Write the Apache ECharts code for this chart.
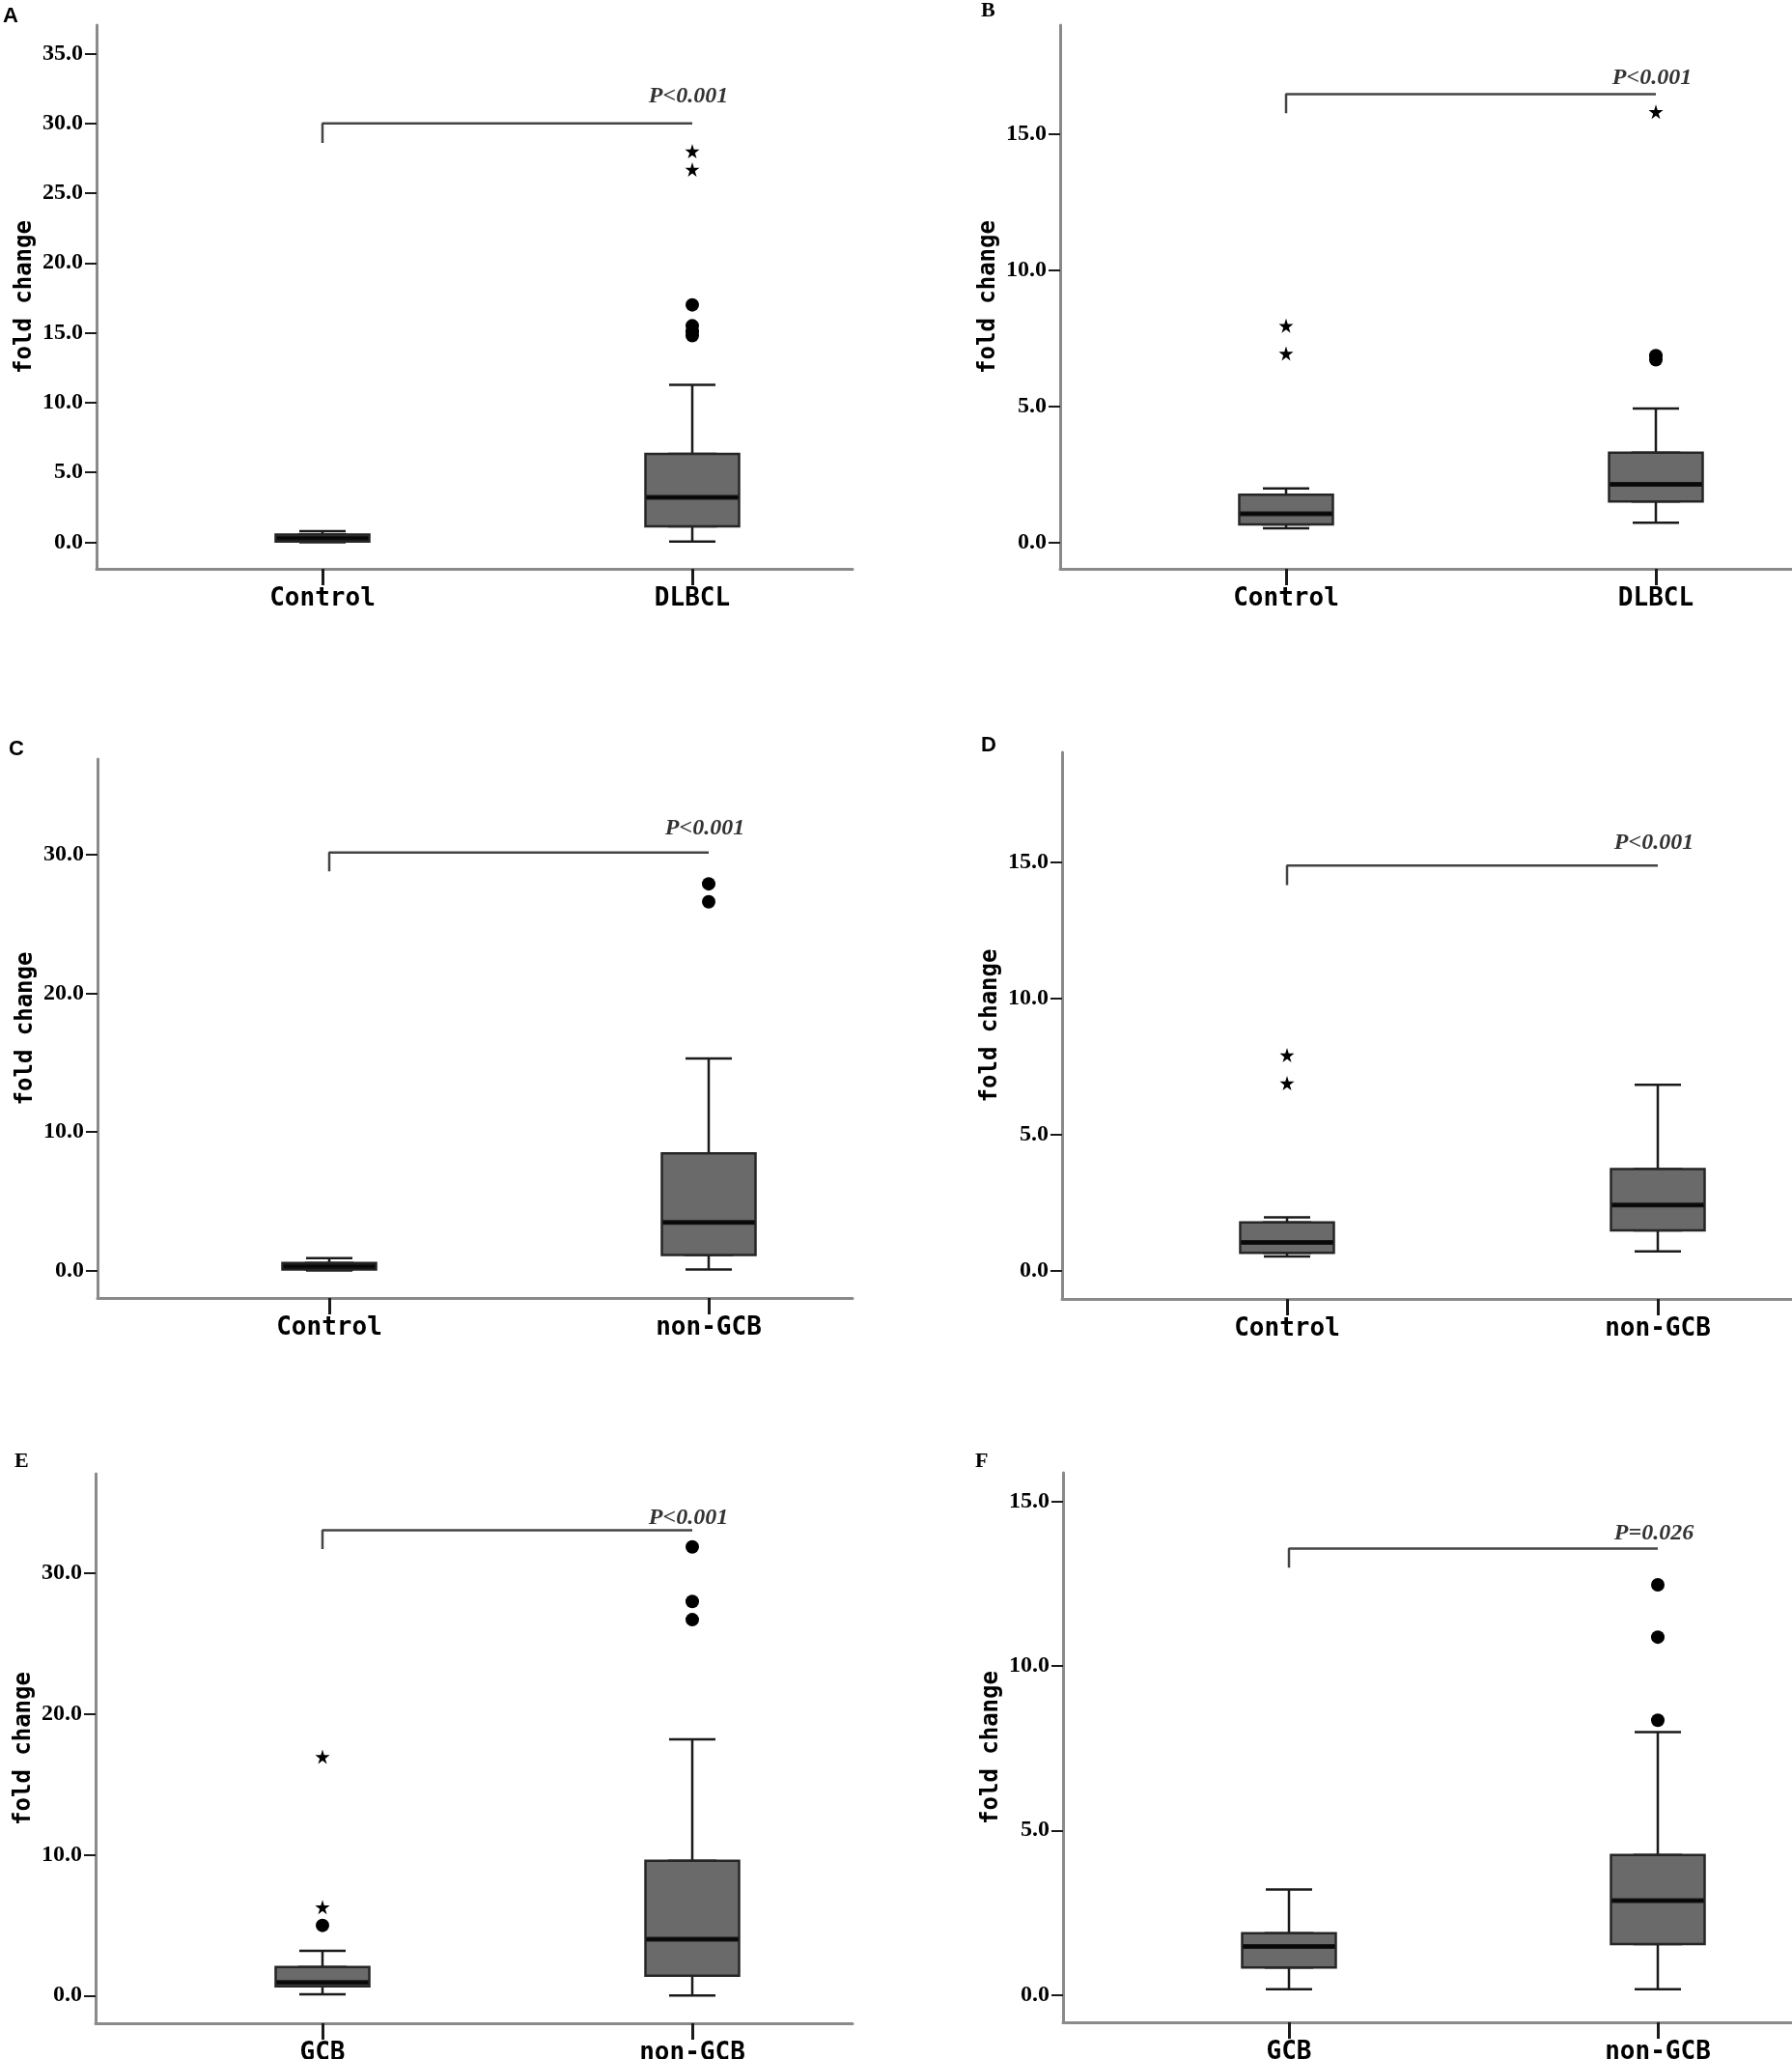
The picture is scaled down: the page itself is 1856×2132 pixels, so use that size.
<!DOCTYPE html>
<html><head><meta charset="utf-8">
<script src="https://cdn.jsdelivr.net/npm/echarts@6/dist/echarts.min.js"></script>
<style>html,body{margin:0;padding:0;background:#fff}#c{width:1856px;height:2132px}</style>
</head><body><div id="c"></div>
<script>
// ---------- DATA ----------
// Panel A
const catsA = ['Control', 'DLBCL'];
const boxA = [[0.0, 0.06, 0.29, 0.55, 0.79], [0.05, 1.14, 3.21, 6.33, 11.28]]; // min,Q1,median,Q3,max
const circlesA = [[], [17.0, 15.5, 15.1, 14.8]];
const starsA = [[], [28.0, 26.7]];
const bracketA = [30.0, 28.6];
const pTextA = 'P<0.001';
const pYA = 31.9;
const yTicksA = [0, 5, 10, 15, 20, 25, 30, 35];
const yRangeA = [-1.9, 37.03];

// Panel B
const catsB = ['Control', 'DLBCL'];
const boxB = [[0.52, 0.66, 1.05, 1.75, 1.98], [0.72, 1.50, 2.13, 3.29, 4.91]];
const circlesB = [[], [6.85, 6.7]];
const starsB = [[7.95, 6.93], [15.8]];
const bracketB = [16.45, 15.75];
const pTextB = 'P<0.001';
const pYB = 17.05;
const yTicksB = [0, 5, 10, 15];
const yRangeB = [-0.97, 18.98];

// Panel C
const catsC = ['Control', 'non-GCB'];
const boxC = [[0.0, 0.06, 0.29, 0.53, 0.88], [0.06, 1.12, 3.47, 8.44, 15.3]];
const circlesC = [[], [27.9, 26.6]];
const starsC = [[], []];
const bracketC = [30.15, 28.8];
const pTextC = 'P<0.001';
const pYC = 31.9;
const yTicksC = [0, 10, 20, 30];
const yRangeC = [-1.99, 36.9];

// Panel D
const catsD = ['Control', 'non-GCB'];
const boxD = [[0.54, 0.67, 1.05, 1.79, 1.97], [0.72, 1.49, 2.42, 3.74, 6.83]];
const circlesD = [[], []];
const starsD = [[7.92, 6.89], []];
const bracketD = [14.87, 14.15];
const pTextD = 'P<0.001';
const pYD = 15.7;
const yTicksD = [0, 5, 10, 15];
const yRangeD = [-1.02, 19.02];

// Panel E
const catsE = ['GCB', 'non-GCB'];
const boxE = [[0.08, 0.65, 0.93, 2.02, 3.18], [0.0, 1.41, 3.99, 9.56, 18.19]];
const circlesE = [[4.98], [31.85, 27.97, 26.68]];
const starsE = [[16.95, 6.27], []];
const bracketE = [33.03, 31.7];
const pTextE = 'P<0.001';
const pYE = 33.9;
const yTicksE = [0, 10, 20, 30];
const yRangeE = [-1.97, 37.04];

// Panel F
const catsF = ['GCB', 'non-GCB'];
const boxF = [[0.17, 0.83, 1.47, 1.87, 3.2], [0.17, 1.54, 2.86, 4.25, 7.99]];
const circlesF = [[], [12.47, 10.88, 8.35]];
const starsF = [[], []];
const bracketF = [13.57, 12.99];
const pTextF = 'P=0.026';
const pYF = 14.04;
const yTicksF = [0, 5, 10, 15];
const yRangeF = [-0.84, 15.88];

const yTitle = 'fold change';

// ---------- LAYOUT ----------
const panels = [
  {letter:'A', serif:false, lx:3,    ly:6,    yAxisX:100,  axisEnd:883,  top:26,   axisY:589,  c0:334,  c1:717,
   cats:catsA, box:boxA, circles:circlesA, stars:starsA, bracket:bracketA, pText:pTextA, pY:pYA, ticks:yTicksA, range:yRangeA},
  {letter:'B', serif:true,  lx:1016, ly:0,    yAxisX:1098, axisEnd:1856, top:26,   axisY:589,  c0:1332, c1:1715,
   cats:catsB, box:boxB, circles:circlesB, stars:starsB, bracket:bracketB, pText:pTextB, pY:pYB, ticks:yTicksB, range:yRangeB},
  {letter:'C', serif:false, lx:9,    ly:765,  yAxisX:101,  axisEnd:883,  top:786,  axisY:1344, c0:341,  c1:734,
   cats:catsC, box:boxC, circles:circlesC, stars:starsC, bracket:bracketC, pText:pTextC, pY:pYC, ticks:yTicksC, range:yRangeC},
  {letter:'D', serif:false, lx:1016, ly:761,  yAxisX:1100, axisEnd:1856, top:779,  axisY:1345, c0:1333, c1:1717,
   cats:catsD, box:boxD, circles:circlesD, stars:starsD, bracket:bracketD, pText:pTextD, pY:pYD, ticks:yTicksD, range:yRangeD},
  {letter:'E', serif:true,  lx:15,   ly:1502, yAxisX:99,   axisEnd:883,  top:1526, axisY:2095, c0:334,  c1:717,
   cats:catsE, box:boxE, circles:circlesE, stars:starsE, bracket:bracketE, pText:pTextE, pY:pYE, ticks:yTicksE, range:yRangeE},
  {letter:'F', serif:true,  lx:1010, ly:1502, yAxisX:1101, axisEnd:1856, top:1525, axisY:2094, c0:1335, c1:1717,
   cats:catsF, box:boxF, circles:circlesF, stars:starsF, bracket:bracketF, pText:pTextF, pY:pYF, ticks:yTicksF, range:yRangeF}
];

const STAR = 'path://M50,0 L61,35 L98,35 L68,57 L79,91 L50,70 L21,91 L32,57 L2,35 L39,35 Z';
const AXIS_GRAY = '#8a8a8a';
const DARK = '#1a1a1a';

const grid = [], xAxis = [], yAxis = [], series = [], graphic = [];

panels.forEach((p, k) => {
  const gF = grid.length;
  grid.push({left: p.yAxisX, top: p.top, width: p.axisEnd - p.yAxisX, height: p.axisY - p.top,
    containLabel: false, outerBoundsMode: 'none'});
  const gD = grid.length;
  grid.push({left: p.c0, top: p.top, width: p.c1 - p.c0, height: p.axisY - p.top,
    containLabel: false, outerBoundsMode: 'none'});

  const xF = xAxis.length;
  xAxis.push({gridIndex: gF, type: 'value', min: 0, max: 1, position: 'bottom',
    axisLine: {show: true, onZero: false, lineStyle: {color: AXIS_GRAY, width: 3}},
    axisTick: {show: false}, axisLabel: {show: false}, splitLine: {show: false}});
  const xD = xAxis.length;
  xAxis.push({gridIndex: gD, type: 'category', data: p.cats, boundaryGap: false, position: 'bottom',
    axisLine: {show: false, onZero: false},
    axisTick: {show: true, length: 17, lineStyle: {color: DARK, width: 3}},
    axisLabel: {interval: 0, margin: 18, fontFamily: 'DejaVu Sans Mono', fontWeight: 'bold', fontSize: 26, color: '#000'},
    splitLine: {show: false}});
  const xAux = xAxis.length;
  xAxis.push({gridIndex: gD, type: 'category', data: p.cats, boundaryGap: false, position: 'bottom', show: false,
    axisLine: {onZero: false}});

  const yF = yAxis.length;
  yAxis.push({gridIndex: gF, type: 'value', min: p.range[0], max: p.range[1],
    axisLine: {show: true, onZero: false, lineStyle: {color: AXIS_GRAY, width: 3}},
    axisTick: {show: true, length: 12, customValues: p.ticks, lineStyle: {color: DARK, width: 2}},
    axisLabel: {customValues: p.ticks, formatter: v => Number(v).toFixed(1), margin: 14,
      fontFamily: 'Liberation Serif', fontWeight: 'bold', fontSize: 24, color: '#000'},
    splitLine: {show: false},
    name: yTitle, nameLocation: 'middle', nameGap: 62,
    nameTextStyle: {fontFamily: 'DejaVu Sans Mono', fontWeight: 'bold', fontSize: 24, color: '#000'}});
  const yD = yAxis.length;
  yAxis.push({gridIndex: gD, type: 'value', min: p.range[0], max: p.range[1], show: false, splitLine: {show: false}});

  // whiskers (narrow caps)
  series.push({type: 'boxplot', xAxisIndex: xAux, yAxisIndex: yD, boxWidth: [48, 48], silent: true, z: 2,
    emphasis: {disabled: true},
    itemStyle: {color: '#6b6b6b', borderColor: DARK, borderWidth: 2.5},
    data: p.box});
  // box body
  series.push({type: 'boxplot', xAxisIndex: xD, yAxisIndex: yD, boxWidth: [97, 97], silent: true, z: 3,
    emphasis: {disabled: true},
    itemStyle: {color: '#6a6a6a', borderColor: '#262626', borderWidth: 2.5},
    data: p.box.map(b => [b[1], b[1], b[2], b[3], b[3]])});
  // thick median
  series.push({type: 'scatter', xAxisIndex: xD, yAxisIndex: yD, silent: true, z: 4,
    symbol: 'rect', symbolSize: [95, 5], itemStyle: {color: '#000'},
    data: p.box.map((b, i) => [i, b[2]])});
  // outliers (circles)
  const circ = [];
  p.circles.forEach((arr, i) => arr.forEach(v => circ.push([i, v])));
  series.push({type: 'scatter', xAxisIndex: xD, yAxisIndex: yD, silent: true, z: 5,
    symbol: 'circle', symbolSize: 14, itemStyle: {color: '#000', opacity: 1}, data: circ});
  // extreme values (stars)
  const st = [];
  p.stars.forEach((arr, i) => arr.forEach(v => st.push([i, v])));
  series.push({type: 'scatter', xAxisIndex: xD, yAxisIndex: yD, silent: true, z: 5,
    symbol: STAR, symbolSize: 15, itemStyle: {color: '#000', opacity: 1}, data: st});
  // significance bracket
  series.push({type: 'line', xAxisIndex: xD, yAxisIndex: yD, silent: true, z: 5, symbol: 'none',
    lineStyle: {color: '#444', width: 2.5},
    data: [[0, p.bracket[1]], [0, p.bracket[0]], [1, p.bracket[0]]]});
  // P text
  series.push({type: 'scatter', xAxisIndex: xD, yAxisIndex: yD, silent: true, z: 6, symbolSize: 0,
    label: {show: true, position: 'inside', offset: [-4, 0], formatter: p.pText,
      fontFamily: 'Liberation Serif', fontStyle: 'italic', fontWeight: 'bold', fontSize: 24, color: '#000'},
    data: [[1, p.pY]]});

  graphic.push({type: 'text', left: p.lx, top: p.ly, silent: true,
    style: {text: p.letter, fill: '#000', fontWeight: 'bold', fontSize: 22,
      fontFamily: p.serif ? 'Liberation Serif' : 'Liberation Sans'}});
});

const chart = echarts.init(document.getElementById('c'), null, {renderer: 'canvas'});
chart.setOption({
  backgroundColor: '#fff',
  animation: false,
  grid, xAxis, yAxis, series, graphic
});
</script>
</body></html>
